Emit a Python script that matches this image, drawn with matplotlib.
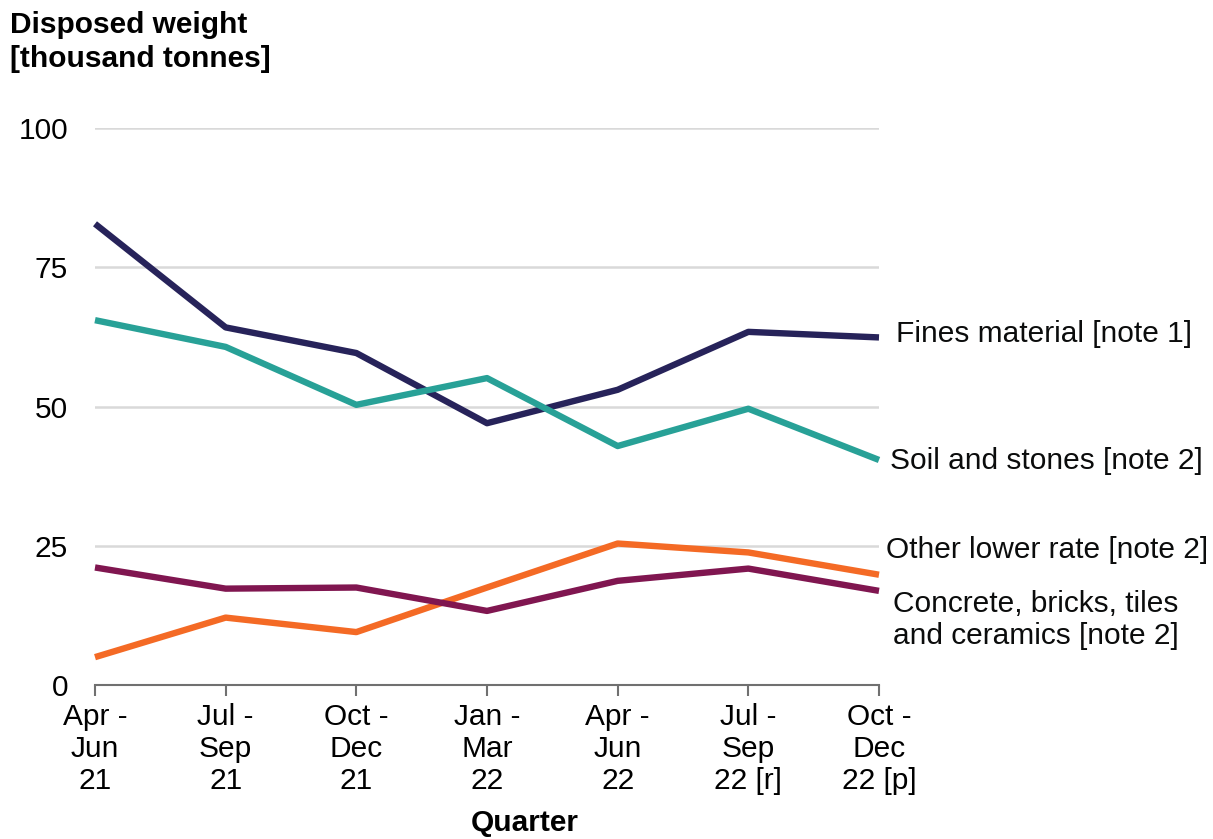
import matplotlib
matplotlib.use("Agg")
import matplotlib.pyplot as plt

plt.rcParams['font.family'] = ['Liberation Sans', 'DejaVu Sans']

quarters = ['Apr -\nJun\n21', 'Jul -\nSep\n21', 'Oct -\nDec\n21', 'Jan -\nMar\n22',
            'Apr -\nJun\n22', 'Jul -\nSep\n22 [r]', 'Oct -\nDec\n22 [p]']

fines = [82.8, 64.2, 59.6, 47.0, 53.0, 63.4, 62.4]
soil = [65.5, 60.7, 50.3, 55.1, 42.9, 49.6, 40.4]
other_lower = [5.0, 12.1, 9.5, 17.5, 25.4, 23.8, 19.8]
concrete = [21.1, 17.3, 17.5, 13.3, 18.7, 20.9, 16.9]

series = [
    ('Fines material [note 1]', fines, '#27235a', (17, 3)),
    ('Soil and stones [note 2]', soil, '#28a197', (11, -1)),
    ('Other lower rate [note 2]', other_lower, '#f46a25', (7, 25)),
    ('Concrete, bricks, tiles\nand ceramics [note 2]', concrete, '#801650', (14, -29)),
]

fs = 21.5

fig = plt.figure(figsize=(12.13, 8.39), dpi=100)
ax = fig.add_axes([95 / 1213, 1 - 685 / 839, (879 - 95) / 1213, (685 - 128) / 839])

x = list(range(len(quarters)))
for name, vals, col, off in series:
    ax.plot(x, vals, color=col, linewidth=4.6, clip_on=False, solid_capstyle='butt', zorder=3)
    ax.annotate(name, xy=(x[-1], vals[-1]), xytext=off, textcoords='offset pixels',
                ha='left', va='center', fontsize=fs, color='#0b0c0c', linespacing=1.15)

ax.set_xlim(0, 6)
ax.set_ylim(0, 100)
ax.set_yticks([0, 25, 50, 75, 100])
ax.set_xticks(x)
ax.set_xticklabels(quarters, fontsize=fs, linespacing=1.17)
ax.tick_params(axis='y', length=0, pad=19.5, labelsize=fs)
ax.tick_params(axis='x', length=8, width=1.5, color='#707070', pad=5)
for yv in [25, 50, 75, 100]:
    ax.axhline(yv, color='#d9d9d9', linewidth=1.8, zorder=1)

for s in ['top', 'right', 'left']:
    ax.spines[s].set_visible(False)
ax.spines['bottom'].set_color('#707070')
ax.spines['bottom'].set_linewidth(1.5)

fig.text(10 / 1213, 1 - 11 / 839, 'Disposed weight\n[thousand tonnes]', fontsize=fs,
         fontweight='bold', ha='left', va='top', linespacing=1.27)
fig.text(525 / 1213, 1 - 831 / 839, 'Quarter', fontsize=fs, fontweight='bold',
         ha='center', va='baseline')

fig.savefig('out.png', dpi=100)
